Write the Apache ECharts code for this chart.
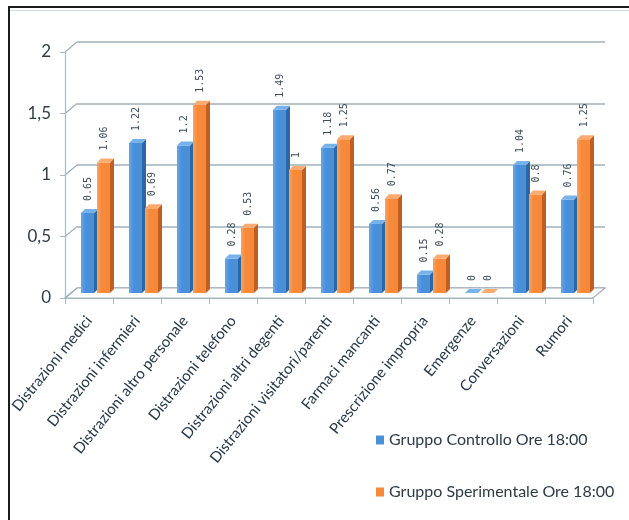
<!DOCTYPE html>
<html>
<head>
<meta charset="utf-8">
<script src="https://cdn.jsdelivr.net/npm/echarts@6/dist/echarts.min.js"></script>
<style>
  html, body { margin: 0; padding: 0; background: #ffffff; }
  #frame { position: absolute; left: 8px; top: 6px; width: 640px; height: 540px;
           border-top: 2px solid #1c1c1c; border-left: 2px solid #1c1c1c; }
  #inner { position: absolute; left: 10px; top: 10px; width: 640px; height: 0;
           border-top: 1px solid #cfdde8; }
  #chart { position: absolute; left: 0; top: 0; width: 629px; height: 520px; }
</style>
</head>
<body>
<div id="frame"></div>
<div id="inner"></div>
<div id="chart"></div>
<script>
// Chart data
const categories = [
  'Distrazioni medici', 'Distrazioni infermieri', 'Distrazioni altro personale',
  'Distrazioni telefono', 'Distrazioni altri degenti', 'Distrazioni visitatori/parenti',
  'Farmaci mancanti', 'Prescrizione impropria', 'Emergenze', 'Conversazioni', 'Rumori'
];
const seriesNames = ['Gruppo Controllo Ore 18:00', 'Gruppo Sperimentale Ore 18:00'];
const controllo    = [0.65, 1.22, 1.2, 0.28, 1.49, 1.18, 0.56, 0.15, 0, 1.04, 0.76];
const sperimentale = [1.06, 0.69, 1.53, 0.53, 1, 1.25, 0.77, 0.28, 0, 0.8, 1.25];
const yTicks = [0, 0.5, 1, 1.5, 2];
const yTickLabels = ['0', '0,5', '1', '1,5', '2'];

// Styling
const PLOT_W = 528, PLOT_H = 246;
const FRONT = { left: 65, top: 52 };
const BARS  = { left: 71, top: 47 };
const BACK  = { left: 77, top: 42 };
const WALL_DX = BACK.left - FRONT.left, WALL_DY = FRONT.top - BACK.top;
const lineColor = '#9fb0bb';
const axisColor = '#a6bccb';
const palette = [
  { front: '#4a90d9', light: '#6aa7e6', side: '#2f67a6', top: '#78b2ea' },
  { front: '#f78a3a', light: '#f9a262', side: '#bf5f23', top: '#fbab70' }
];

function fmt(v) { return String(v); }

function bar3d(idx) {
  const c = palette[idx];
  return function (params, api) {
    const cat = api.value(0), val = api.value(1);
    const base = api.coord([cat, 0]);
    const top = api.coord([cat, val]);
    const bw = 13, dx = 4, dy = 4;
    const x0 = idx === 0 ? base[0] - bw - 1 : base[0] + 2;
    const x1 = x0 + bw;
    const yb = base[1], yt = top[1];
    const children = [];
    if (yb - yt > 0.5) {
      children.push({
        type: 'rect',
        shape: { x: x0, y: yt, width: bw, height: yb - yt },
        style: { fill: new echarts.graphic.LinearGradient(0, 0, 1, 0, [
          { offset: 0, color: c.light }, { offset: 0.35, color: c.front }, { offset: 1, color: c.front }
        ]) }
      });
      children.push({
        type: 'polygon',
        shape: { points: [[x1, yt], [x1 + dx, yt - dy], [x1 + dx, yb - dy], [x1, yb]] },
        style: { fill: c.side }
      });
    }
    children.push({
      type: 'polygon',
      shape: { points: [[x0, yt], [x0 + dx, yt - dy], [x1 + dx, yt - dy], [x1, yt]] },
      style: { fill: c.top }
    });
    children.push({
      type: 'text',
      x: x0 + bw / 2 + 1,
      y: yt - dy - 8,
      rotation: Math.PI / 2,
      style: {
        text: fmt(val), align: 'left', verticalAlign: 'middle',
        fill: '#3a4e5d', font: '10px "DejaVu Sans Mono"'
      }
    });
    return { type: 'group', children: children };
  };
}

// Floor of the plot and the slanted edges of the left wall
function floorItem(params, api) {
  const cs = params.coordSys;
  const y0 = api.coord([0, 0])[1];
  return {
    type: 'polygon',
    shape: { points: [[cs.x, y0], [cs.x + cs.width, y0],
                      [cs.x + cs.width + WALL_DX, y0 - WALL_DY], [cs.x + WALL_DX, y0 - WALL_DY]] },
    style: { fill: '#ffffff', stroke: lineColor, lineWidth: 1.2 },
    z2: -1
  };
}
function wallEdge(params, api) {
  const cs = params.coordSys;
  const y = api.coord([0, api.value(0)])[1];
  return {
    type: 'line',
    shape: { x1: cs.x, y1: y, x2: cs.x + WALL_DX, y2: y - WALL_DY },
    style: { stroke: lineColor, lineWidth: 1.2 }
  };
}

const chart = echarts.init(document.getElementById('chart'), null, { renderer: 'canvas' });

const valueAxisBase = { type: 'value', min: 0, max: 2, interval: 0.5 };

chart.setOption({
  backgroundColor: 'transparent',
  animation: false,
  grid: [
    { left: BACK.left,  top: BACK.top,  width: PLOT_W, height: PLOT_H },
    { left: FRONT.left, top: FRONT.top, width: PLOT_W, height: PLOT_H },
    { left: BARS.left,  top: BARS.top,  width: PLOT_W, height: PLOT_H }
  ],
  xAxis: [
    { gridIndex: 0, type: 'category', data: categories, show: false },
    {
      gridIndex: 1, type: 'category', data: categories,
      axisLine: { lineStyle: { color: axisColor, width: 1.2 } },
      axisTick: { show: true, length: 6, lineStyle: { color: axisColor } },
      axisLabel: {
        interval: 0, rotate: 51, margin: 20,
        fontFamily: 'Lato', fontSize: 15, color: '#26394a'
      }
    },
    { gridIndex: 2, type: 'category', data: categories, show: false }
  ],
  yAxis: [
    Object.assign({ gridIndex: 0, axisLabel: { show: false }, axisLine: { show: false },
      axisTick: { show: false },
      splitLine: { show: true, lineStyle: { color: lineColor, width: 1.5 } } }, valueAxisBase),
    Object.assign({ gridIndex: 1,
      axisLine: { show: true, lineStyle: { color: axisColor, width: 1.2 } },
      axisTick: { show: true, length: 5, lineStyle: { color: axisColor } },
      splitLine: { show: false },
      axisLabel: {
        margin: 14, fontFamily: 'Lato', fontSize: 17, color: '#2f3e48',
        formatter: function (v) { return yTickLabels[yTicks.indexOf(v)]; }
      } }, valueAxisBase),
    Object.assign({ gridIndex: 2, show: false, splitLine: { show: false } }, valueAxisBase)
  ],
  legend: {
    orient: 'vertical', left: 371, top: 427,
    itemWidth: 8, itemHeight: 9, itemGap: 36,
    icon: 'rect',
    textStyle: { fontFamily: 'Lato', fontSize: 16, color: '#2d3b45' },
    data: seriesNames
  },
  series: [
    {
      type: 'custom', name: 'floor', xAxisIndex: 1, yAxisIndex: 1,
      data: [[0, 0]], renderItem: floorItem, silent: true, z: 1
    },
    {
      type: 'custom', name: 'wall', xAxisIndex: 1, yAxisIndex: 1,
      data: yTicks.map(function (v) { return [v]; }),
      encode: { y: 0 }, renderItem: wallEdge, silent: true, z: 1
    },
    {
      type: 'custom', name: seriesNames[0], xAxisIndex: 2, yAxisIndex: 2,
      itemStyle: { color: palette[0].front },
      data: controllo.map(function (v, i) { return [i, v]; }),
      renderItem: bar3d(0), z: 5
    },
    {
      type: 'custom', name: seriesNames[1], xAxisIndex: 2, yAxisIndex: 2,
      itemStyle: { color: palette[1].front },
      data: sperimentale.map(function (v, i) { return [i, v]; }),
      renderItem: bar3d(1), z: 6
    }
  ]
});
</script>
</body>
</html>
